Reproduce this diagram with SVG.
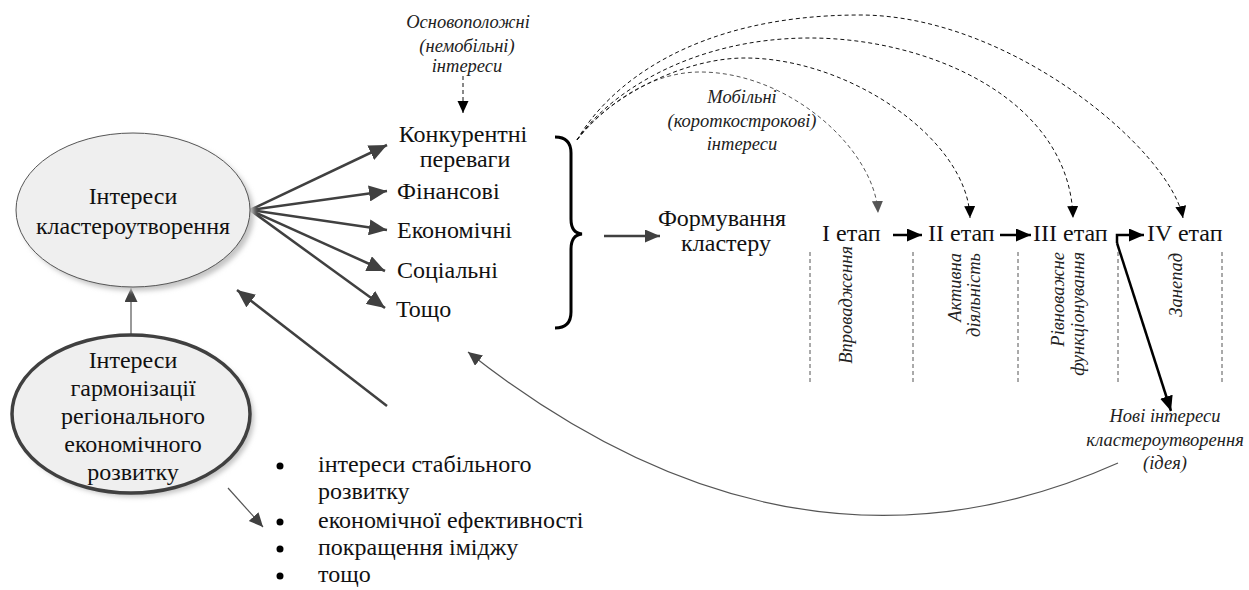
<svg xmlns="http://www.w3.org/2000/svg" width="1249" height="590" viewBox="0 0 1249 590">
<style>
  text { font-family: 'Liberation Serif', serif !important; }
  .t { font-size: 24px; fill: #111; }
  .i { font-size: 18.5px; font-style: italic; fill: #222; }
  .mid { text-anchor: middle; }
  .end { text-anchor: end; }
  .dk { fill: none; stroke: #404040; stroke-width: 2.5; }
  .bk { fill: none; stroke: #000; stroke-width: 2.5; }
  .thin { fill: none; stroke: #555; stroke-width: 1.2; }
  .dash { fill: none; stroke: #111; stroke-width: 1; stroke-dasharray: 4 3; }
  .dashg { fill: none; stroke: #555; stroke-width: 1; stroke-dasharray: 4 3; }
  .sep { fill: none; stroke: #555; stroke-width: 1; stroke-dasharray: 4 3; }
</style>
<defs>
  <filter id="blur" x="-10%" y="-10%" width="120%" height="120%">
    <feGaussianBlur stdDeviation="2.5"/>
  </filter>
  <marker id="mDk" markerUnits="userSpaceOnUse" markerWidth="20" markerHeight="16" refX="18" refY="8" orient="auto">
    <path d="M0,0 L18,8 L0,16 z" fill="#404040"/>
  </marker>
  <marker id="mDkS" markerUnits="userSpaceOnUse" markerWidth="16" markerHeight="14" refX="15" refY="6.5" orient="auto">
    <path d="M0,0 L15,6.5 L0,13 z" fill="#404040"/>
  </marker>
  <marker id="mBk" markerUnits="userSpaceOnUse" markerWidth="16" markerHeight="14" refX="15" refY="6.5" orient="auto">
    <path d="M0,0 L15,6.5 L0,13 z" fill="#000"/>
  </marker>
  <marker id="mArc" markerUnits="userSpaceOnUse" markerWidth="14" markerHeight="12" refX="12" refY="5.5" orient="auto">
    <path d="M0,0 L12,5.5 L0,11 z" fill="#000"/>
  </marker>
  <marker id="mArcG" markerUnits="userSpaceOnUse" markerWidth="14" markerHeight="12" refX="12" refY="5.5" orient="auto">
    <path d="M0,0 L12,5.5 L0,11 z" fill="#555"/>
  </marker>
  <marker id="mThin" markerUnits="userSpaceOnUse" markerWidth="16" markerHeight="14" refX="14" refY="6.5" orient="auto">
    <path d="M0,0 L14,6.5 L0,13 z" fill="#404040"/>
  </marker>
</defs>

<g id="connectors">
  <line class="thin" x1="131" y1="335" x2="131" y2="288" marker-end="url(#mThin)"/>
  <line class="dk" x1="250" y1="210" x2="387" y2="145" marker-end="url(#mDk)"/>
  <line class="dk" x1="250" y1="210" x2="387" y2="191" marker-end="url(#mDk)"/>
  <line class="dk" x1="250" y1="210" x2="387" y2="230" marker-end="url(#mDk)"/>
  <line class="dk" x1="250" y1="210" x2="385" y2="271" marker-end="url(#mDk)"/>
  <line class="dk" x1="250" y1="210" x2="385" y2="308" marker-end="url(#mDk)"/>
  <line class="dk" x1="387" y1="406" x2="237" y2="290" marker-end="url(#mDk)"/>
  <line class="thin" x1="228" y1="488" x2="263" y2="527" marker-end="url(#mThin)"/>
  <line class="dash" x1="463" y1="76" x2="463" y2="113" marker-end="url(#mArc)"/>
  <path d="M555,137 Q571,137 571,153 L571,219 Q571,233 582,234 Q571,235 571,249 L571,312 Q571,328 555,328" fill="none" stroke="#000" stroke-width="3"/>
  <line class="dk" x1="604" y1="236" x2="660" y2="236" marker-end="url(#mDkS)"/>
  <path class="dashg" d="M577,140 C605,105 650,72 700,72 C790,72 875,150 878,213" marker-end="url(#mArcG)"/>
  <path class="dash" d="M577,140 C605,100 680,58 745,58 C850,58 968,140 970,218" marker-end="url(#mArc)"/>
  <path class="dash" d="M577,140 C607,95 690,38 810,38 C930,38 1070,100 1073,218" marker-end="url(#mArc)"/>
  <path class="dash" d="M577,140 C607,88 690,15 860,15 C1010,15 1170,150 1183,218" marker-end="url(#mArc)"/>
  <line class="bk" x1="893" y1="235" x2="922" y2="235" marker-end="url(#mBk)"/>
  <line class="bk" x1="1000" y1="235" x2="1031" y2="235" marker-end="url(#mBk)"/>
  <path class="bk" d="M1117,243 L1117,235 L1144,235" marker-end="url(#mBk)"/>
  <line class="bk" x1="1117" y1="243" x2="1171" y2="411" marker-end="url(#mBk)"/>
  <line class="sep" x1="810" y1="252" x2="810" y2="382"/>
  <line class="sep" x1="913" y1="252" x2="913" y2="382"/>
  <line class="sep" x1="1018" y1="252" x2="1018" y2="382"/>
  <line class="sep" x1="1118" y1="252" x2="1118" y2="382"/>
  <line class="sep" x1="1222" y1="252" x2="1222" y2="382"/>
  <path class="thin" d="M1118,463 Q793,608 468,352" marker-end="url(#mThin)"/>
</g>

<g id="node-interests">
  <ellipse cx="137" cy="214" rx="117" ry="77" fill="#c4c4c4" filter="url(#blur)"/>
  <ellipse cx="133" cy="210" rx="117" ry="77" fill="#efefef" stroke="#555" stroke-width="1"/>
  <text class="t mid" style="font-family:'Liberation Serif'" x="133" y="204">Інтереси</text>
  <text class="t mid" style="font-family:'Liberation Serif'" x="133" y="234">кластероутворення</text>
</g>

<g id="node-harmonization">
  <ellipse cx="135" cy="418" rx="119" ry="79" fill="#c4c4c4" filter="url(#blur)"/>
  <ellipse cx="131" cy="414" rx="119" ry="79" fill="#efefef" stroke="#404040" stroke-width="3.5"/>
  <text class="t mid" style="font-family:'Liberation Serif'" x="133" y="368">Інтереси</text>
  <text class="t mid" style="font-family:'Liberation Serif'" x="133" y="396">гармонізації</text>
  <text class="t mid" style="font-family:'Liberation Serif'" x="133" y="424">регіонального</text>
  <text class="t mid" style="font-family:'Liberation Serif'" x="133" y="452">економічного</text>
  <text class="t mid" style="font-family:'Liberation Serif'" x="133" y="480">розвитку</text>
</g>

<g id="node-fundamental">
  <text class="i mid" style="font-family:'Liberation Serif'" x="468" y="28">Основоположні</text>
  <text class="i mid" style="font-family:'Liberation Serif'" x="467" y="52">(немобільні)</text>
  <text class="i mid" style="font-family:'Liberation Serif'" x="467" y="72">інтереси</text>
</g>

<g id="node-competitive">
  <text class="t mid" style="font-family:'Liberation Serif'" x="463" y="142">Конкурентні</text>
  <text class="t mid" style="font-family:'Liberation Serif'" x="465" y="167">переваги</text>
</g>
<g id="node-financial"><text class="t" style="font-family:'Liberation Serif'" x="397" y="199">Фінансові</text></g>
<g id="node-economic"><text class="t" style="font-family:'Liberation Serif'" x="397" y="238">Економічні</text></g>
<g id="node-social"><text class="t" style="font-family:'Liberation Serif'" x="397" y="278">Соціальні</text></g>
<g id="node-etc"><text class="t" style="font-family:'Liberation Serif'" x="396" y="317">Тощо</text></g>

<g id="node-mobile">
  <text class="i mid" style="font-family:'Liberation Serif'" x="742" y="103">Мобільні</text>
  <text class="i mid" style="font-family:'Liberation Serif'" x="742" y="127">(короткострокові)</text>
  <text class="i mid" style="font-family:'Liberation Serif'" x="742" y="150">інтереси</text>
</g>

<g id="node-forming">
  <text class="t mid" style="font-family:'Liberation Serif'" x="722" y="226">Формування</text>
  <text class="t mid" style="font-family:'Liberation Serif'" x="726" y="251">кластеру</text>
</g>

<g id="node-stage1"><text class="t" style="font-family:'Liberation Serif'" x="822" y="241">I етап</text></g>
<g id="node-stage2"><text class="t" style="font-family:'Liberation Serif'" x="928" y="241">II етап</text></g>
<g id="node-stage3"><text class="t" style="font-family:'Liberation Serif'" x="1033" y="241">III етап</text></g>
<g id="node-stage4"><text class="t" style="font-family:'Liberation Serif'" x="1147" y="241">IV етап</text></g>

<g id="node-phase1"><text class="i end" style="font-family:'Liberation Serif'" transform="translate(852,246) rotate(-90)">Впровадження</text></g>
<g id="node-phase2">
  <text class="i end" style="font-family:'Liberation Serif'" transform="translate(961,253) rotate(-90)">Активна</text>
  <text class="i end" style="font-family:'Liberation Serif'" transform="translate(980,253) rotate(-90)">діяльність</text>
</g>
<g id="node-phase3">
  <text class="i end" style="font-family:'Liberation Serif'" transform="translate(1064,252) rotate(-90)">Рівноважне</text>
  <text class="i end" style="font-family:'Liberation Serif'" transform="translate(1084,252) rotate(-90)">функціонування</text>
</g>
<g id="node-phase4"><text class="i end" style="font-family:'Liberation Serif'" transform="translate(1182,253) rotate(-90)">Занепад</text></g>

<g id="node-new">
  <text class="i mid" style="font-family:'Liberation Serif'" x="1165" y="422">Нові інтереси</text>
  <text class="i mid" style="font-family:'Liberation Serif'" x="1165" y="446">кластероутворення</text>
  <text class="i mid" style="font-family:'Liberation Serif'" x="1165" y="469">(ідея)</text>
</g>

<g id="node-list">
  <circle cx="280" cy="466" r="3.5" fill="#000"/>
  <circle cx="280" cy="522" r="3.5" fill="#000"/>
  <circle cx="280" cy="549" r="3.5" fill="#000"/>
  <circle cx="280" cy="576" r="3.5" fill="#000"/>
  <text class="t" style="font-family:'Liberation Serif'" x="318" y="472">інтереси стабільного</text>
  <text class="t" style="font-family:'Liberation Serif'" x="318" y="499">розвитку</text>
  <text class="t" style="font-family:'Liberation Serif'" x="318" y="528">економічної ефективності</text>
  <text class="t" style="font-family:'Liberation Serif'" x="318" y="555">покращення іміджу</text>
  <text class="t" style="font-family:'Liberation Serif'" x="318" y="582">тощо</text>
</g>
</svg>
